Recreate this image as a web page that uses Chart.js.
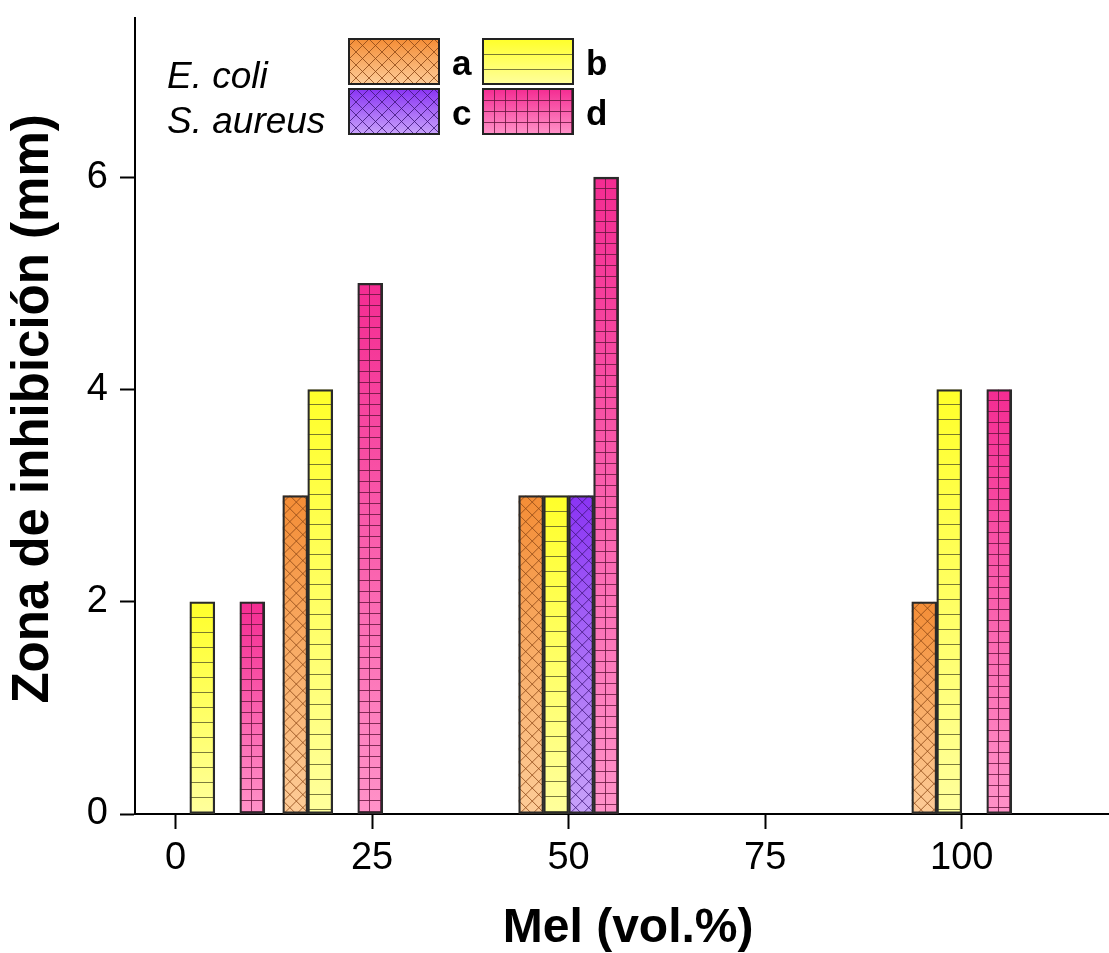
<!DOCTYPE html>
<html>
<head>
<meta charset="utf-8">
<script src="https://cdn.jsdelivr.net/npm/chart.js@4.4.0/dist/chart.umd.min.js"></script>
<style>
html, body { margin: 0; padding: 0; background: #fff; }
#wrap { width: 1109px; height: 953px; position: relative; }
</style>
</head>
<body>
<div id="wrap"><canvas id="inhibChart"></canvas></div>
<script>
// data
const groups = [5, 20, 50, 100];
const seriesNames = ['a', 'b', 'c', 'd'];
const valuesA = [null, 3, 3, 2];
const valuesB = [2, 4, 3, 4];
const valuesC = [null, null, 3, null];
const valuesD = [2, 5, 6, 4];
const xTickValues = [0, 25, 50, 75, 100];
const yTickValues = [0, 2, 4, 6];
const bacteria = ['E. coli', 'S. aureus'];

const FONT = "'Liberation Sans', Arial, sans-serif";

// gradient + hatch look of each series
const looks = [
  { top: '#f48d36', bottom: '#fdcc98', hatch: 'diag',  line: 'rgba(140,70,20,0.8)',  step: 13 },
  { top: '#ffff2a', bottom: '#ffff9c', hatch: 'horiz', line: 'rgba(90,90,40,0.8)',   step: 15 },
  { top: '#8a34f4', bottom: '#c8a2fa', hatch: 'diag',  line: 'rgba(60,20,120,0.8)',  step: 13 },
  { top: '#f42c92', bottom: '#ff92c8', hatch: 'grid',  line: 'rgba(100,20,60,0.8)',  step: 11 }
];

function paintFill(ctx, look, x, y, w, h) {
  ctx.save();
  ctx.beginPath();
  ctx.rect(x, y, w, h);
  ctx.clip();
  const g = ctx.createLinearGradient(0, y, 0, y + h);
  g.addColorStop(0, look.top);
  g.addColorStop(1, look.bottom);
  ctx.fillStyle = g;
  ctx.fillRect(x, y, w, h);
  ctx.strokeStyle = look.line;
  ctx.lineWidth = 1;
  ctx.beginPath();
  const s = look.step;
  if (look.hatch === 'diag') {
    for (let k = -h; k < w + h; k += s) {
      ctx.moveTo(x + k, y); ctx.lineTo(x + k + h, y + h);
      ctx.moveTo(x + k, y); ctx.lineTo(x + k - h, y + h);
    }
  } else {
    for (let yy = y + s; yy < y + h; yy += s) {
      ctx.moveTo(x, Math.round(yy) + 0.5); ctx.lineTo(x + w, Math.round(yy) + 0.5);
    }
    if (look.hatch === 'grid') {
      for (let xx = x + s; xx < x + w; xx += s) {
        ctx.moveTo(Math.round(xx) + 0.5, y); ctx.lineTo(Math.round(xx) + 0.5, y + h);
      }
    }
  }
  ctx.stroke();
  ctx.restore();
}

const hatchPlugin = {
  id: 'hatchFill',
  beforeDatasetDraw(chart, args) {
    const ctx = chart.ctx;
    const look = looks[args.index];
    const ds = chart.data.datasets[args.index];
    args.meta.data.forEach((bar, i) => {
      if (ds.data[i].y === null) return;
      const p = bar.getProps(['x', 'y', 'base', 'width'], true);
      const top = Math.min(p.y, p.base);
      const bottom = Math.max(p.y, p.base);
      paintFill(ctx, look, p.x - p.width / 2, top, p.width, bottom - top);
    });
  },
  afterDraw(chart) {
    // legend: 2x2 swatches with letters, species names at left
    const ctx = chart.ctx;
    const boxW = 90, boxH = 45;
    const cols = [349, 483];
    const rows = [39, 89];
    ctx.save();
    seriesNames.forEach((name, i) => {
      const bx = cols[i % 2];
      const by = rows[Math.floor(i / 2)];
      paintFill(ctx, looks[i], bx, by, boxW, boxH);
      ctx.lineWidth = 2;
      ctx.strokeStyle = '#222';
      ctx.strokeRect(bx, by, boxW, boxH);
      ctx.fillStyle = '#000';
      ctx.font = 'bold 35px ' + FONT;
      ctx.textBaseline = 'alphabetic';
      ctx.fillText(name, bx + boxW + 13, by + 36);
    });
    ctx.font = 'italic 37px ' + FONT;
    ctx.fillText(bacteria[0], 167, 88);
    ctx.fillText(bacteria[1], 167, 133);
    ctx.restore();
  }
};

const seriesValues = [valuesA, valuesB, valuesC, valuesD];

new Chart(document.getElementById('inhibChart'), {
  type: 'bar',
  data: {
    datasets: seriesValues.map((vals, i) => ({
      label: seriesNames[i],
      data: groups.map((g, j) => ({ x: g, y: vals[j] })),
      backgroundColor: 'rgba(0,0,0,0)',
      borderColor: '#2a2a2a',
      borderWidth: 1.6,
      borderSkipped: false,
      barThickness: 25
    }))
  },
  options: {
    responsive: true,
    maintainAspectRatio: false,
    animation: false,
    layout: { padding: { top: 18, right: 1, left: 0, bottom: 0 } },
    plugins: { legend: { display: false }, tooltip: { enabled: false } },
    scales: {
      x: {
        type: 'linear',
        min: -5.15,
        max: 118.6,
        offset: false,
        z: 1,
        afterBuildTicks: s => { s.ticks = xTickValues.map(v => ({ value: v })); },
        ticks: { font: { size: 38, family: FONT }, color: '#000', padding: 7, includeBounds: false },
        grid: { display: true, drawOnChartArea: false, offset: false, tickLength: 15, tickWidth: 2, tickColor: '#000' },
        border: { display: true, color: '#000', width: 2 },
        title: {
          display: true, text: ' Mel (vol.%)', color: '#000',
          font: { size: 48, weight: 'bold', family: FONT, lineHeight: 1 },
          padding: { top: 0, bottom: 0 }
        },
        afterFit: s => { s.height = 139; s.paddingLeft = 0; s.paddingRight = 0; }
      },
      y: {
        min: 0,
        max: 7.5,
        z: 1,
        afterBuildTicks: s => { s.ticks = yTickValues.map(v => ({ value: v })); },
        ticks: { font: { size: 38, family: FONT }, color: '#000', padding: 12, includeBounds: false },
        grid: { display: true, drawOnChartArea: false, tickLength: 15, tickWidth: 2, tickColor: '#000' },
        border: { display: true, color: '#000', width: 2 },
        title: {
          display: true, text: ' Zona de inhibición (mm)', color: '#000',
          font: { size: 51, weight: 'bold', family: FONT, lineHeight: 1 },
          padding: { top: 8, bottom: 0 }
        },
        afterFit: s => { s.width = 135; s.paddingTop = 0; s.paddingBottom = 0; }
      }
    }
  },
  plugins: [hatchPlugin]
});
</script>
</body>
</html>
